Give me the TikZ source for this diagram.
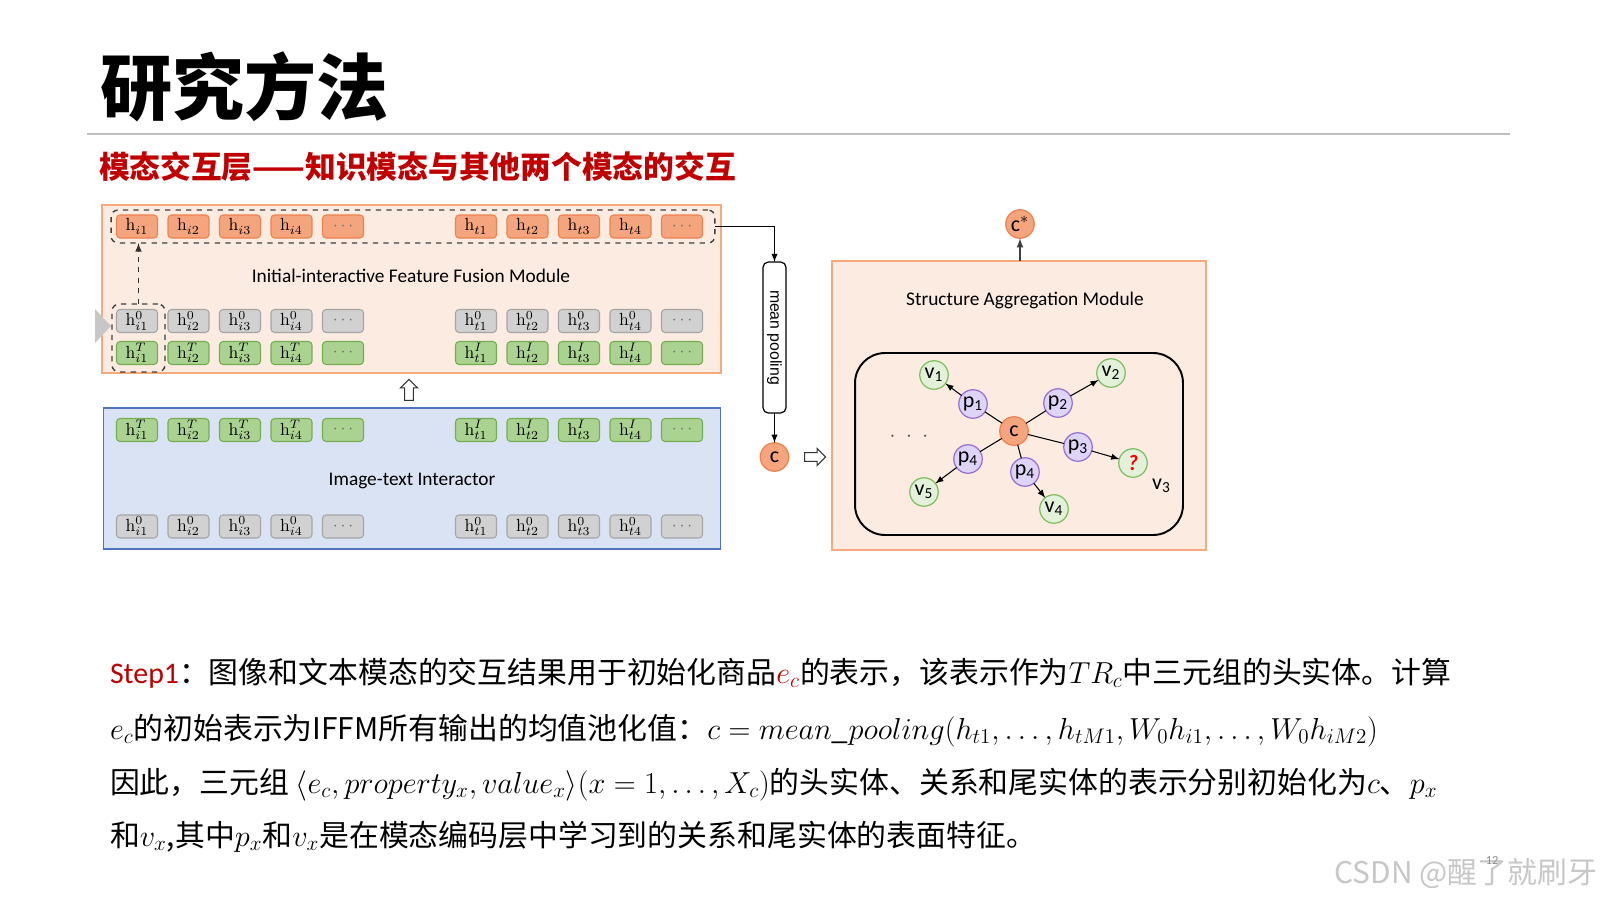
\documentclass[tikz,border=0pt]{standalone}
\usepackage[no-math]{fontspec}
\usepackage{graphicx}
\setmainfont{Carlito}
\newfontfamily\cjk{Noto Sans CJK SC}
\newfontfamily\arialfont{Liberation Sans}
\newcommand*{\bodyfont}{\cjk\fontsize{17}{20}\selectfont}
\newcommand*{\tokdots}{\textcolor{black!55}{$\cdots$}}
\definecolor{hred}{RGB}{192,0,0}
\definecolor{peach}{RGB}{251,235,224}
\definecolor{peachl}{RGB}{244,170,125}
\definecolor{bluebg}{RGB}{218,227,243}
\definecolor{bluel}{RGB}{80,115,190}
\definecolor{tO}{RGB}{244,165,125}
\definecolor{tOl}{RGB}{235,130,80}
\definecolor{tG}{RGB}{210,209,209}
\definecolor{tGl}{RGB}{165,165,165}
\definecolor{tV}{RGB}{170,210,145}
\definecolor{tVl}{RGB}{115,175,80}
\definecolor{cP}{RGB}{221,212,248}
\definecolor{cPl}{RGB}{150,110,210}
\definecolor{cV}{RGB}{227,240,218}
\definecolor{cVl}{RGB}{125,190,95}
\usetikzlibrary{arrows}
\usetikzlibrary{positioning}
\usetikzlibrary{shapes.arrows}
\tikzstyle{base}=[x=0.02cm, y=-0.02cm, inner sep=0pt, outer sep=0pt]
\tikzset{tok/.style={rectangle, rounded corners=2pt, minimum width=0.82cm, minimum height=0.46cm,
    line width=0.6pt, fill=#1, draw=#1l, font=\fontsize{10}{11}\selectfont}}
\tikzstyle{dashbox}=[draw=black!75, dashed, rounded corners=4pt, line width=0.8pt]
\tikzstyle{modlabel}=[font=\fontsize{11}{12}\selectfont]
\tikzstyle{ball}=[circle, minimum size=0.57cm, line width=0.7pt, font=\fontsize{12.5}{13}\selectfont]
\tikzstyle{hollow}=[single arrow, draw=black!80, fill=white, line width=0.6pt,
    minimum height=0.42cm, inner sep=2.2pt, single arrow head extend=2.4pt]
\tikzstyle{body}=[anchor=base west, font=\bodyfont]

\begin{document}
\begin{tikzpicture}[base]
    \fill [white] (0,0) rectangle (1600,900);
    \path [use as bounding box] (0,0) rectangle (1600,900);
    % heading
    \node [anchor=base west, font=\cjk\bfseries\fontsize{41}{44}\selectfont] (title) at (100,114) {研究方法};
    \draw [black!25, line width=1.1pt] (87,134) -- (1510,134);
    \node [anchor=base west, hred, font=\cjk\bfseries\fontsize{17.5}{20}\selectfont] (sub) at (99,178)
        {模态交互层——知识模态与其他两个模态的交互};

    % two left modules
    \node [draw=peachl, fill=peach, line width=0.9pt, minimum width=12.38cm, minimum height=3.36cm] (iffm) at (411.5,289) {};
    \node [draw=bluel, fill=bluebg, line width=0.9pt, minimum width=12.34cm, minimum height=2.82cm] (iti) at (412,478.5) {};
    \fill [black!22] (95,309) -- (111,326) -- (95,343) -- cycle;
    \node [modlabel] (iffmlabel) at (411,276) {Initial-interactive Feature Fusion Module};
    \node [modlabel] (itilabel) at (412,481) {Image-text Interactor};

    \foreach \r/\y/\cl/\si/\st in {1/226.5/tO//, 2/321/tG/0/0, 3/353/tV/T/I, 4/430/tV/T/I, 5/526.5/tG/0/0}{
        \foreach \k/\x in {1/137,2/188.5,3/240,4/291.5}{
            \node [tok=\cl] (i\r\k) at (\x,\y) {$\mathrm{h}^{\si}_{i\k}$};
            \node [tok=\cl] (t\r\k) at (\x+339,\y) {$\mathrm{h}^{\st}_{t\k}$};
        }
        \node [tok=\cl] (i\r d) at (343,\y) {\tokdots};
        \node [tok=\cl] (t\r d) at (682,\y) {\tokdots};
    }
    \node [dashbox, minimum width=12.08cm, minimum height=0.66cm] (toprow) at (413,226.5) {};
    \node [dashbox, minimum width=1.06cm, minimum height=1.36cm] (colbox) at (138.5,338) {};
    \draw [dashed, black!80, line width=0.7pt, -latex] (colbox.north) -- (colbox.north |- toprow.south);
    \node [hollow, rotate=90] (uparr) at (409,392) {};

    % pooling
    \node [draw, rounded corners=3pt, line width=0.7pt, fill=white, minimum width=0.46cm, minimum height=3.02cm]
        (pool) at (774.5,337.5) {\rotatebox{-90}{\arialfont\fontsize{9}{10}\selectfont mean pooling}};
    \node [ball, fill=tO, draw=tOl] (c) at (774.5,457) {c};
    \draw [-latex, line width=0.6pt] (toprow.east) -| (pool.north);
    \draw [-latex, line width=0.6pt] (pool) -- (c);
    \node [hollow] (toright) at (813,457) {};

    % structure aggregation
    \node [draw=peachl, fill=peach, line width=0.9pt, minimum width=7.48cm, minimum height=5.78cm] (sam) at (1019,405.5) {};
    \node [modlabel] (samlabel) at (1025,300) {Structure Aggregation Module};
    \node [ball, fill=tO, draw=tOl] (cstar) at (1020,224) {c$^{*}$};
    \draw [-latex, line width=0.8pt, black!75] (sam.north -| cstar) -- (cstar);
    \node [draw, rounded corners=0.6cm, line width=1.1pt, minimum width=6.56cm, minimum height=3.64cm] (kg) at (1019,444) {};

    \node [ball, fill=tO, draw=tOl] (cc) at (1014,431) {c};
    \node [ball, fill=cP, draw=cPl] (p1) at (973,404) {p\textsubscript{1}};
    \node [ball, fill=cP, draw=cPl] (p2) at (1058,403) {p\textsubscript{2}};
    \node [ball, fill=cP, draw=cPl] (p3) at (1078,447) {p\textsubscript{3}};
    \node [ball, fill=cP, draw=cPl] (p4a) at (968,459) {p\textsubscript{4}};
    \node [ball, fill=cP, draw=cPl] (p4b) at (1025,472) {p\textsubscript{4}};
    \node [ball, fill=cV, draw=cVl] (v1) at (934,375) {v\textsubscript{1}};
    \node [ball, fill=cV, draw=cVl] (v2) at (1111,373) {v\textsubscript{2}};
    \node [ball, fill=cV, draw=cVl] (v3) at (1133,463) {\textcolor{red}{\textbf{\textit{?}}}};
    \node [ball, fill=cV, draw=cVl] (v5) at (924,492) {v\textsubscript{5}};
    \node [ball, fill=cV, draw=cVl] (v4) at (1054,509) {v\textsubscript{4}};
    \node [font=\fontsize{12.5}{13}\selectfont, below right=0.12cm and 0.18cm of v3] (v3name) {v\textsubscript{3}};
    \node [black!70, font=\fontsize{12}{13}\selectfont] (more) at (909,437) {$\cdot\;\cdot\;\cdot$};
    \foreach \p in {p1,p2,p3,p4a,p4b}
        \draw [line width=0.6pt] (cc) -- (\p);
    \draw [-latex, line width=0.6pt] (p1) -- (v1);
    \draw [-latex, line width=0.6pt] (p2) -- (v2);
    \draw [-latex, line width=0.6pt] (p3) -- (v3);
    \draw [-latex, line width=0.6pt] (p4a) -- (v5);
    \draw [-latex, line width=0.6pt] (p4b) -- (v4);

    % text
    \node [body] (line1) at (110,683) {{\rmfamily\color{hred}Step1}：图像和文本模态的交互结果用于初始化商品{\color{hred}$e_c$}的表示，该表示作为$TR_c$中三元组的头实体。计算};
    \node [body] (line2) at (110,739) {$e_c$的初始表示为IFFM所有输出的均值池化值：$c = mean\_pooling(h_{t1},\ldots,h_{tM1},W_0h_{i1},\ldots,W_0h_{iM2})$};
    \node [body] (line3) at (110,793) {因此，三元组 $\langle e_c,property_x,value_x\rangle(x=1,\ldots,X_c)$的头实体、关系和尾实体的表示分别初始化为$c$、$p_x$};
    \node [body] (line4) at (110,846) {和$v_x$,其中$p_x$和$v_x$是在模态编码层中学习到的关系和尾实体的表面特征。};
    \node [anchor=base east, black!22, font=\cjk\fontsize{17}{20}\selectfont] (mark) at (1597,883) {CSDN @醒了就刷牙};
    \node [black!45, font=\fontsize{7}{8}\selectfont] (pageno) at (1492,860) {12};
\end{tikzpicture}
\end{document}
